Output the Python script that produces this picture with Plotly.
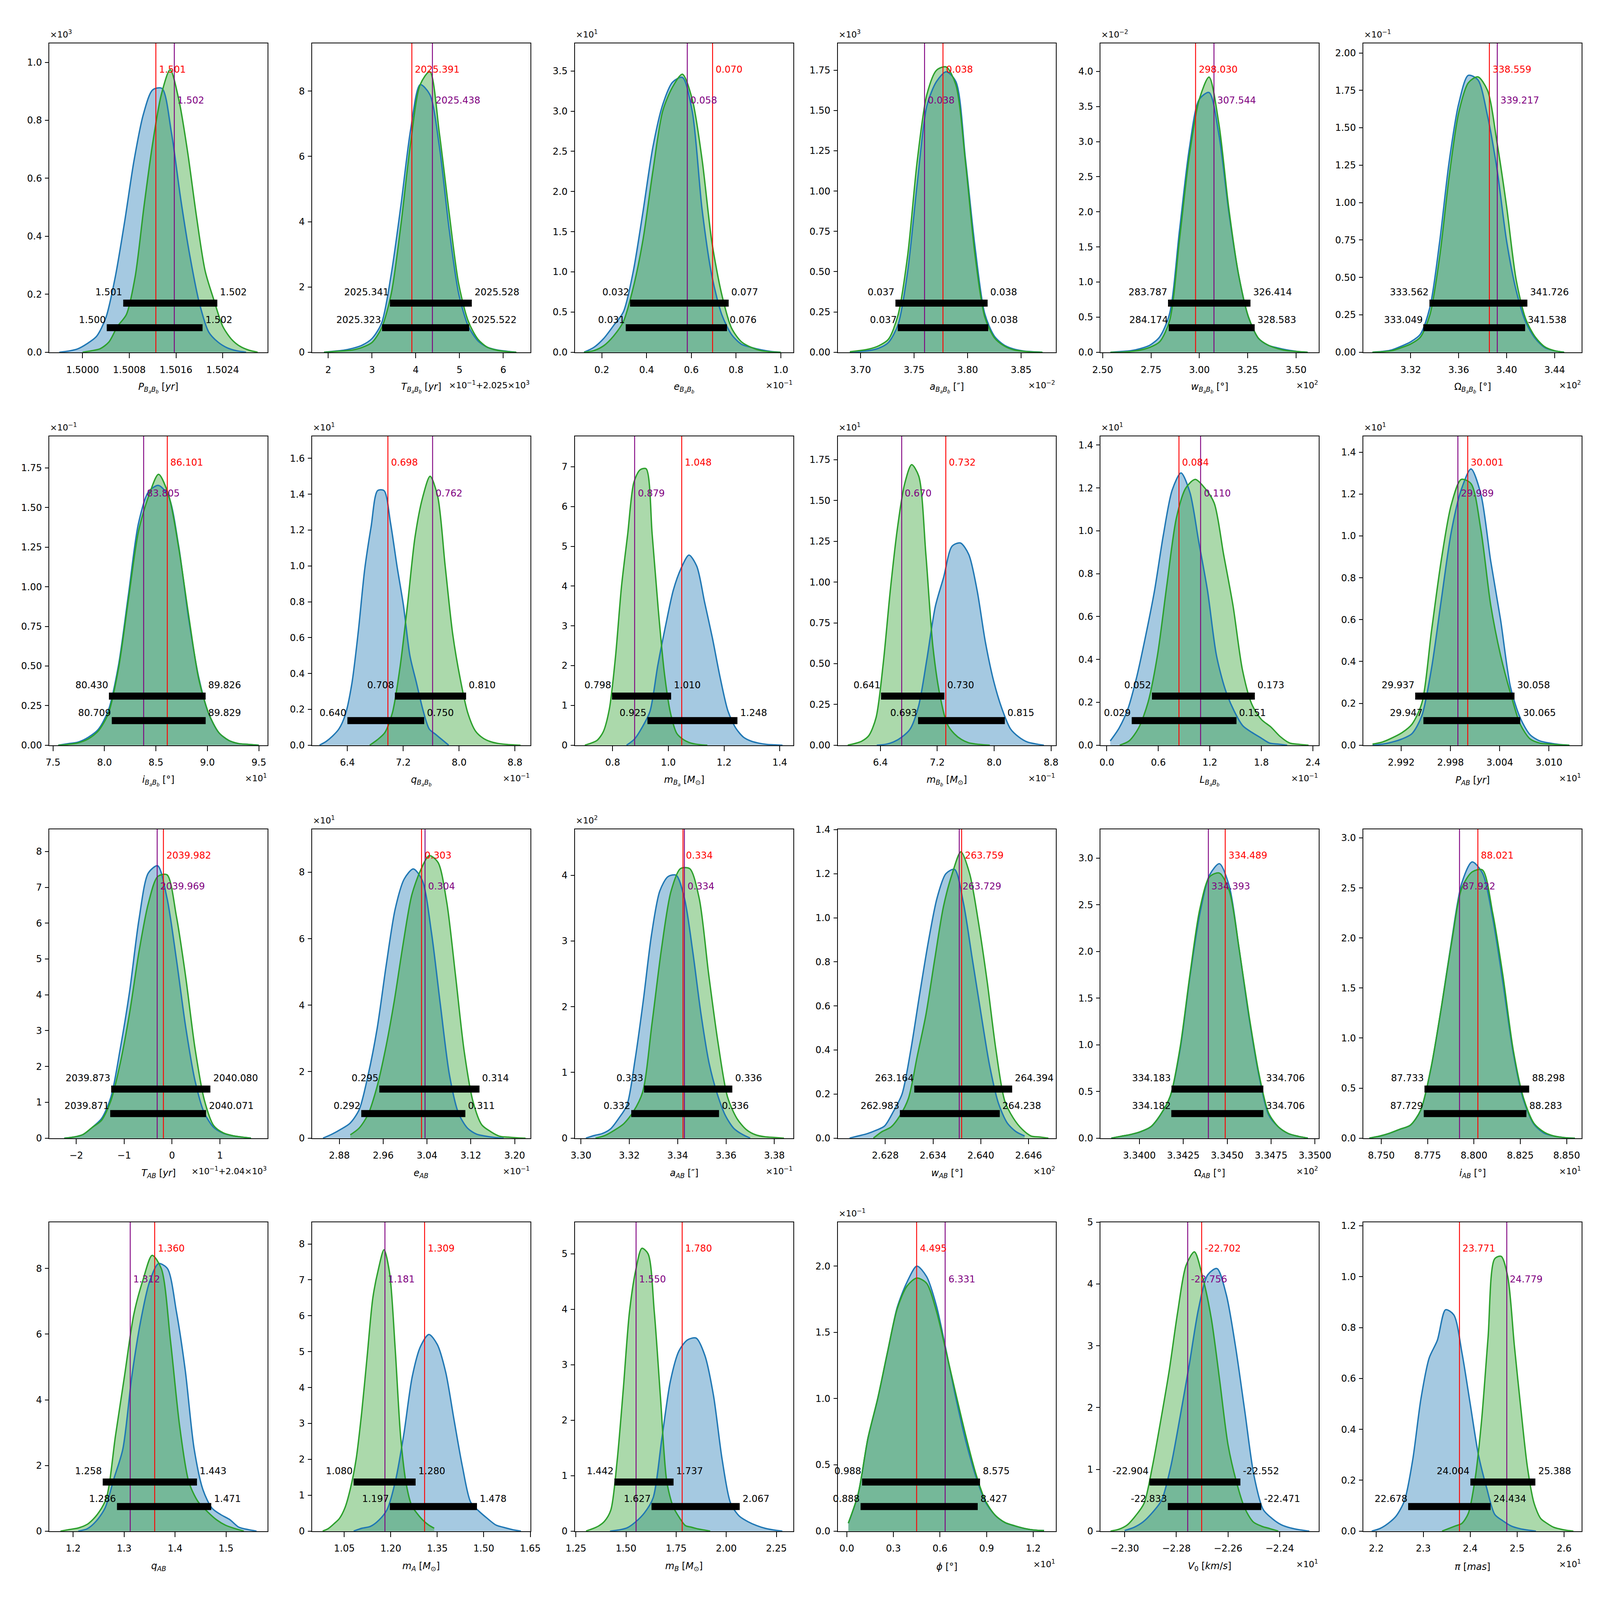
import numpy as np
import plotly.graph_objects as go
from plotly.subplots import make_subplots

# The figure fills the browser window; pixel sizes below are scaled from a
# 7200x4800 design to the 4096x4096 window the page is shown in.
SX = 4096 / 7200
SY = 4096 / 4800

# ------------------------
# Panels, left to right, top to bottom (values in the units shown on the axes)
# ------------------------

SB = "<sub><i>B<sub>a</sub>B<sub>b</sub></i></sub>"
x_titles = [
    "<i>P</i>" + SB + " [<i>yr</i>]", "<i>T</i>" + SB + " [<i>yr</i>]", "<i>e</i>" + SB,
    "<i>a</i>" + SB + " [″]", "<i>w</i>" + SB + " [°]", "Ω" + SB + " [°]",
    "<i>i</i>" + SB + " [°]", "<i>q</i>" + SB,
    "<i>m</i><sub><i>B<sub>a</sub></i></sub> [<i>M</i><sub>⊙</sub>]",
    "<i>m</i><sub><i>B<sub>b</sub></i></sub> [<i>M</i><sub>⊙</sub>]",
    "<i>L</i>" + SB, "<i>P</i><sub><i>AB</i></sub> [<i>yr</i>]",
    "<i>T</i><sub><i>AB</i></sub> [<i>yr</i>]", "<i>e</i><sub><i>AB</i></sub>",
    "<i>a</i><sub><i>AB</i></sub> [″]", "<i>w</i><sub><i>AB</i></sub> [°]",
    "Ω<sub><i>AB</i></sub> [°]", "<i>i</i><sub><i>AB</i></sub> [°]",
    "<i>q</i><sub><i>AB</i></sub>", "<i>m</i><sub><i>A</i></sub> [<i>M</i><sub>⊙</sub>]",
    "<i>m</i><sub><i>B</i></sub> [<i>M</i><sub>⊙</sub>]", "<i>ϕ</i> [°]",
    "<i>V</i><sub>0</sub> [<i>km</i>/<i>s</i>]", "<i>π</i> [<i>mas</i>]",
]

x_offsets = [
    "", "×10<sup>−1</sup>+2.025×10<sup>3</sup>", "×10<sup>−1</sup>", "×10<sup>−2</sup>",
    "×10<sup>2</sup>", "×10<sup>2</sup>",
    "×10<sup>1</sup>", "×10<sup>−1</sup>", "", "×10<sup>−1</sup>", "×10<sup>−1</sup>",
    "×10<sup>1</sup>",
    "×10<sup>−1</sup>+2.04×10<sup>3</sup>", "×10<sup>−1</sup>", "×10<sup>−1</sup>",
    "×10<sup>2</sup>", "×10<sup>2</sup>", "×10<sup>1</sup>",
    "", "", "", "×10<sup>1</sup>", "×10<sup>1</sup>", "×10<sup>1</sup>",
]

y_offsets = [
    "×10<sup>3</sup>", "", "×10<sup>1</sup>", "×10<sup>3</sup>", "×10<sup>−2</sup>",
    "×10<sup>−1</sup>",
    "×10<sup>−1</sup>", "×10<sup>1</sup>", "", "×10<sup>1</sup>", "×10<sup>1</sup>",
    "×10<sup>1</sup>",
    "", "×10<sup>1</sup>", "×10<sup>2</sup>", "", "", "",
    "", "", "", "×10<sup>−1</sup>", "", "",
]

x_ranges = [
    (1.49943, 1.50317), (1.631, 6.62), (0.0797, 1.0556), (3.6787, 3.8826),
    (2.489, 3.6175), (3.2805, 3.4625),
    (7.464, 9.585), (5.895, 9.021), (0.6647, 1.4483), (5.8007, 8.87),
    (-0.0733, 2.469), (2.98738, 3.01398),
    (-2.561, 1.995), (2.8303, 3.2288), (3.2975, 3.3878), (2.62202, 2.64945),
    (3.33779, 3.35022), (8.7403, 8.8581),
    (1.1532, 1.5817), (0.9461, 1.6505), (1.245, 2.334), (-0.0583, 1.3468),
    (-2.30935, -2.22483), (2.1723, 2.6374),
]

y_tops = [
    1.0655, 9.465, 3.844, 1.9165, 4.40, 2.064,
    1.95, 1.723, 7.765, 1.894, 1.441, 1.476,
    8.62, 9.293, 4.70, 1.402, 3.309, 3.086,
    9.41, 8.606, 5.57, 2.331, 5.0, 1.214,
]

x_ticks = [
    ["1.5000", "1.5008", "1.5016", "1.5024"], ["2", "3", "4", "5", "6"],
    ["0.2", "0.4", "0.6", "0.8", "1.0"], ["3.70", "3.75", "3.80", "3.85"],
    ["2.50", "2.75", "3.00", "3.25", "3.50"], ["3.32", "3.36", "3.40", "3.44"],
    ["7.5", "8.0", "8.5", "9.0", "9.5"], ["6.4", "7.2", "8.0", "8.8"],
    ["0.8", "1.0", "1.2", "1.4"], ["6.4", "7.2", "8.0", "8.8"],
    ["0.0", "0.6", "1.2", "1.8", "2.4"], ["2.992", "2.998", "3.004", "3.010"],
    ["−2", "−1", "0", "1"], ["2.88", "2.96", "3.04", "3.12", "3.20"],
    ["3.30", "3.32", "3.34", "3.36", "3.38"], ["2.628", "2.634", "2.640", "2.646"],
    ["3.3400", "3.3425", "3.3450", "3.3475", "3.3500"],
    ["8.750", "8.775", "8.800", "8.825", "8.850"],
    ["1.2", "1.3", "1.4", "1.5"], ["1.05", "1.20", "1.35", "1.50", "1.65"],
    ["1.25", "1.50", "1.75", "2.00", "2.25"], ["0.0", "0.3", "0.6", "0.9", "1.2"],
    ["−2.30", "−2.28", "−2.26", "−2.24"], ["2.2", "2.3", "2.4", "2.5", "2.6"],
]

y_ticks = [
    ["0.0", "0.2", "0.4", "0.6", "0.8", "1.0"], ["0", "2", "4", "6", "8"],
    ["0.0", "0.5", "1.0", "1.5", "2.0", "2.5", "3.0", "3.5"],
    ["0.00", "0.25", "0.50", "0.75", "1.00", "1.25", "1.50", "1.75"],
    ["0.0", "0.5", "1.0", "1.5", "2.0", "2.5", "3.0", "3.5", "4.0"],
    ["0.00", "0.25", "0.50", "0.75", "1.00", "1.25", "1.50", "1.75", "2.00"],
    ["0.00", "0.25", "0.50", "0.75", "1.00", "1.25", "1.50", "1.75"],
    ["0.0", "0.2", "0.4", "0.6", "0.8", "1.0", "1.2", "1.4", "1.6"],
    ["0", "1", "2", "3", "4", "5", "6", "7"],
    ["0.00", "0.25", "0.50", "0.75", "1.00", "1.25", "1.50", "1.75"],
    ["0.0", "0.2", "0.4", "0.6", "0.8", "1.0", "1.2", "1.4"],
    ["0.0", "0.2", "0.4", "0.6", "0.8", "1.0", "1.2", "1.4"],
    ["0", "1", "2", "3", "4", "5", "6", "7", "8"], ["0", "2", "4", "6", "8"],
    ["0", "1", "2", "3", "4"],
    ["0.0", "0.2", "0.4", "0.6", "0.8", "1.0", "1.2", "1.4"],
    ["0.0", "0.5", "1.0", "1.5", "2.0", "2.5", "3.0"],
    ["0.0", "0.5", "1.0", "1.5", "2.0", "2.5", "3.0"],
    ["0", "2", "4", "6", "8"], ["0", "1", "2", "3", "4", "5", "6", "7", "8"],
    ["0", "1", "2", "3", "4", "5"], ["0.0", "0.5", "1.0", "1.5", "2.0"],
    ["0", "1", "2", "3", "4", "5"], ["0.0", "0.2", "0.4", "0.6", "0.8", "1.0", "1.2"],
]

# ------------------------
# Posterior densities (at evenly spaced points over each span)
# ------------------------

blue_span = [
    (1.4996, 1.5028), (1.9, 6.3), (0.12, 1.0), (3.69, 3.87), (2.54, 3.56), (3.288, 3.448),
    (7.55, 9.5), (6.0, 7.85), (0.85, 1.41), (6.35, 8.7), (0.04, 2.1), (2.9885, 3.0125),
    (-2.25, 1.65), (2.85, 3.18), (3.302, 3.37), (2.6235, 2.6455), (3.3384, 3.3496),
    (8.7435, 8.8545),
    (1.21, 1.56), (1.08, 1.62), (1.42, 2.28), (0.01, 1.27), (-2.30, -2.2285), (2.19, 2.54),
]

blue_density = [
    [0.0, 0.004, 0.012, 0.03, 0.055, 0.12, 0.26, 0.45, 0.66, 0.82, 0.905, 0.91, 0.76, 0.53, 0.33, 0.17, 0.07, 0.035, 0.015, 0.005, 0.0],
    [0.0, 0.03, 0.06, 0.12, 0.22, 0.42, 0.9, 2.4, 4.5, 6.8, 8.2, 7.9, 6.3, 3.8, 1.8, 0.8, 0.35, 0.15, 0.07, 0.03, 0.0],
    [0.0, 0.06, 0.17, 0.33, 0.5, 1.0, 1.75, 2.55, 3.08, 3.36, 3.42, 3.0, 1.78, 0.95, 0.47, 0.22, 0.1, 0.06, 0.03, 0.01, 0.0],
    [0.0, 0.004, 0.01, 0.025, 0.06, 0.17, 0.5, 1.05, 1.53, 1.68, 1.74, 1.68, 1.2, 0.65, 0.24, 0.1, 0.045, 0.02, 0.008, 0.003, 0.0],
    [0.0, 0.01, 0.02, 0.05, 0.1, 0.22, 0.55, 1.73, 2.9, 3.6, 3.7, 3.1, 2.0, 1.1, 0.5, 0.2, 0.1, 0.06, 0.03, 0.01, 0.0],
    [0.0, 0.005, 0.015, 0.04, 0.07, 0.12, 0.3, 0.73, 1.27, 1.66, 1.85, 1.82, 1.58, 1.22, 0.74, 0.41, 0.2, 0.09, 0.03, 0.01, 0.0],
    [0.0, 0.01, 0.02, 0.05, 0.1, 0.22, 0.5, 0.95, 1.4, 1.6, 1.64, 1.57, 1.26, 0.8, 0.43, 0.2, 0.08, 0.03, 0.01, 0.005, 0.0],
    [0.0, 0.02, 0.05, 0.09, 0.17, 0.34, 0.63, 0.98, 1.22, 1.42, 1.42, 1.24, 1.0, 0.78, 0.5, 0.35, 0.2, 0.09, 0.06, 0.03, 0.0],
    [0.0, 0.15, 0.45, 0.85, 2.0, 3.0, 3.9, 4.45, 4.78, 4.5, 3.6, 2.7, 1.7, 0.86, 0.43, 0.2, 0.1, 0.05, 0.02, 0.01, 0.0],
    [0.0, 0.005, 0.02, 0.05, 0.1, 0.24, 0.53, 0.85, 1.03, 1.22, 1.24, 1.17, 0.95, 0.63, 0.39, 0.22, 0.1, 0.05, 0.02, 0.008, 0.0],
    [0.02, 0.08, 0.17, 0.32, 0.51, 0.72, 0.98, 1.19, 1.27, 1.18, 0.95, 0.72, 0.42, 0.26, 0.16, 0.09, 0.06, 0.035, 0.01, 0.005, 0.0],
    [0.0, 0.005, 0.015, 0.03, 0.055, 0.14, 0.37, 0.7, 1.02, 1.22, 1.32, 1.2, 0.88, 0.6, 0.28, 0.13, 0.05, 0.02, 0.01, 0.003, 0.0],
    [0.0, 0.03, 0.1, 0.3, 0.55, 1.15, 2.5, 4.1, 6.1, 7.4, 7.6, 6.7, 5.0, 3.1, 1.6, 0.7, 0.3, 0.14, 0.07, 0.03, 0.0],
    [0.0, 0.12, 0.27, 0.45, 0.85, 1.9, 3.3, 5.2, 6.9, 7.8, 8.1, 7.75, 6.2, 4.0, 1.9, 0.75, 0.3, 0.12, 0.06, 0.02, 0.0],
    [0.0, 0.04, 0.07, 0.14, 0.3, 0.5, 1.2, 2.1, 3.1, 3.76, 3.98, 4.0, 3.65, 2.85, 1.9, 1.14, 0.67, 0.34, 0.15, 0.06, 0.0],
    [0.0, 0.01, 0.02, 0.035, 0.055, 0.12, 0.2, 0.4, 0.65, 0.89, 1.09, 1.2, 1.22, 1.07, 0.82, 0.57, 0.33, 0.16, 0.07, 0.03, 0.01],
    [0.0, 0.02, 0.04, 0.07, 0.12, 0.25, 0.45, 0.95, 1.73, 2.4, 2.82, 2.94, 2.7, 2.03, 1.3, 0.68, 0.25, 0.12, 0.05, 0.02, 0.0],
    [0.0, 0.02, 0.05, 0.09, 0.13, 0.28, 0.7, 1.3, 1.97, 2.55, 2.76, 2.65, 2.2, 1.55, 0.85, 0.38, 0.14, 0.05, 0.02, 0.005, 0.0],
    [0.0, 0.07, 0.3, 0.7, 1.6, 2.5, 4.7, 6.4, 7.6, 8.15, 8.0, 6.7, 4.9, 2.5, 1.25, 0.7, 0.5, 0.35, 0.12, 0.05, 0.0],
    [0.0, 0.08, 0.13, 0.3, 0.6, 1.4, 2.7, 4.3, 5.15, 5.48, 5.2, 4.43, 3.1, 1.8, 0.8, 0.55, 0.35, 0.17, 0.1, 0.04, 0.0],
    [0.0, 0.02, 0.06, 0.17, 0.33, 0.6, 1.65, 2.7, 3.25, 3.45, 3.48, 3.17, 2.45, 1.3, 0.5, 0.27, 0.17, 0.1, 0.05, 0.02, 0.0],
    [0.06, 0.28, 0.7, 1.0, 1.35, 1.69, 1.88, 2.0, 1.92, 1.7, 1.36, 1.0, 0.68, 0.42, 0.22, 0.12, 0.065, 0.04, 0.02, 0.008, 0.004],
    [0.01, 0.06, 0.15, 0.3, 0.5, 1.05, 1.85, 2.7, 3.6, 4.15, 4.25, 3.83, 2.99, 1.95, 0.9, 0.35, 0.2, 0.1, 0.05, 0.02, 0.0],
    [0.0, 0.01, 0.03, 0.06, 0.12, 0.28, 0.52, 0.68, 0.75, 0.87, 0.85, 0.7, 0.5, 0.3, 0.17, 0.065, 0.04, 0.02, 0.01, 0.004, 0.0],
]

green_span = [
    (1.5000, 1.5030), (1.9, 6.3), (0.12, 1.0), (3.69, 3.87), (2.54, 3.56), (3.288, 3.448),
    (7.55, 9.5), (6.72, 8.88), (0.70, 1.14), (5.94, 7.94), (0.15, 2.35), (2.9885, 3.0125),
    (-2.25, 1.65), (2.90, 3.22), (3.306, 3.384), (2.6265, 2.6485), (3.3384, 3.3496),
    (8.7435, 8.8545),
    (1.175, 1.535), (0.98, 1.34), (1.30, 1.92), (0.01, 1.27), (-2.3055, -2.2405), (2.34, 2.62),
]

green_density = [
    [0.0, 0.005, 0.012, 0.035, 0.09, 0.13, 0.26, 0.5, 0.72, 0.89, 0.975, 0.87, 0.69, 0.47, 0.28, 0.18, 0.09, 0.045, 0.02, 0.007, 0.0],
    [0.0, 0.02, 0.04, 0.07, 0.15, 0.3, 0.75, 1.8, 3.9, 6.4, 8.2, 8.6, 6.7, 4.3, 2.1, 0.95, 0.4, 0.15, 0.06, 0.02, 0.0],
    [0.0, 0.02, 0.08, 0.2, 0.38, 0.8, 1.4, 2.25, 3.0, 3.3, 3.46, 3.15, 2.4, 1.37, 0.72, 0.3, 0.13, 0.06, 0.02, 0.005, 0.0],
    [0.003, 0.01, 0.02, 0.04, 0.08, 0.23, 0.6, 1.19, 1.6, 1.75, 1.77, 1.66, 1.18, 0.6, 0.22, 0.09, 0.04, 0.015, 0.006, 0.002, 0.0],
    [0.0, 0.0, 0.01, 0.03, 0.07, 0.15, 0.45, 1.6, 2.8, 3.6, 3.92, 3.25, 2.05, 1.1, 0.5, 0.2, 0.1, 0.05, 0.02, 0.01, 0.0],
    [0.0, 0.003, 0.01, 0.03, 0.055, 0.1, 0.25, 0.63, 1.17, 1.6, 1.8, 1.84, 1.75, 1.4, 0.97, 0.48, 0.22, 0.1, 0.035, 0.01, 0.0],
    [0.0, 0.005, 0.015, 0.04, 0.09, 0.2, 0.48, 0.92, 1.35, 1.57, 1.71, 1.58, 1.25, 0.82, 0.42, 0.2, 0.08, 0.03, 0.01, 0.005, 0.0],
    [0.0, 0.03, 0.07, 0.18, 0.43, 0.78, 1.16, 1.38, 1.5, 1.39, 1.0, 0.62, 0.37, 0.18, 0.08, 0.04, 0.02, 0.01, 0.005, 0.002, 0.0],
    [0.0, 0.05, 0.12, 0.33, 0.9, 2.2, 4.0, 5.3, 6.6, 6.92, 6.95, 5.3, 3.4, 1.8, 0.8, 0.3, 0.15, 0.07, 0.03, 0.01, 0.0],
    [0.0, 0.01, 0.025, 0.06, 0.17, 0.5, 0.95, 1.33, 1.6, 1.72, 1.65, 1.17, 0.6, 0.3, 0.13, 0.07, 0.035, 0.015, 0.007, 0.003, 0.0],
    [0.0, 0.02, 0.08, 0.2, 0.42, 0.75, 1.06, 1.2, 1.24, 1.2, 1.13, 0.89, 0.65, 0.35, 0.19, 0.12, 0.085, 0.04, 0.01, 0.004, 0.0],
    [0.005, 0.015, 0.035, 0.06, 0.1, 0.2, 0.55, 0.89, 1.15, 1.27, 1.25, 1.03, 0.67, 0.43, 0.25, 0.1, 0.03, 0.01, 0.005, 0.002, 0.0],
    [0.0, 0.03, 0.1, 0.3, 0.5, 1.05, 2.1, 3.5, 5.2, 6.55, 7.3, 7.35, 6.2, 4.5, 2.5, 1.06, 0.35, 0.15, 0.07, 0.03, 0.0],
    [0.1, 0.3, 0.7, 1.5, 2.66, 4.1, 5.8, 7.3, 8.05, 8.5, 8.3, 7.1, 4.9, 2.6, 1.1, 0.4, 0.2, 0.06, 0.03, 0.01, 0.0],
    [0.0, 0.04, 0.12, 0.22, 0.4, 0.7, 1.75, 2.88, 3.75, 4.1, 4.1, 3.65, 2.5, 1.45, 0.63, 0.3, 0.13, 0.05, 0.02, 0.01, 0.0],
    [0.0, 0.03, 0.05, 0.1, 0.18, 0.37, 0.56, 0.81, 1.05, 1.2, 1.3, 1.2, 0.98, 0.71, 0.4, 0.17, 0.09, 0.04, 0.01, 0.005, 0.0],
    [0.0, 0.02, 0.04, 0.07, 0.12, 0.25, 0.45, 0.97, 1.75, 2.45, 2.8, 2.84, 2.65, 2.03, 1.32, 0.7, 0.27, 0.12, 0.05, 0.02, 0.0],
    [0.0, 0.02, 0.05, 0.09, 0.13, 0.28, 0.7, 1.3, 1.95, 2.5, 2.66, 2.68, 2.25, 1.62, 0.88, 0.4, 0.15, 0.06, 0.02, 0.005, 0.0],
    [0.0, 0.05, 0.1, 0.22, 0.5, 1.0, 2.9, 4.75, 6.6, 7.65, 8.4, 8.0, 5.8, 3.2, 1.5, 0.9, 0.6, 0.35, 0.18, 0.08, 0.0],
    [0.0, 0.07, 0.2, 0.35, 0.65, 1.2, 2.0, 3.3, 4.9, 6.5, 7.3, 7.84, 7.2, 5.1, 2.6, 1.3, 0.7, 0.48, 0.3, 0.17, 0.08],
    [0.0, 0.04, 0.09, 0.18, 0.38, 1.25, 2.55, 3.95, 4.7, 5.1, 5.0, 3.95, 2.4, 0.9, 0.45, 0.25, 0.1, 0.07, 0.04, 0.02, 0.0],
    [0.06, 0.28, 0.7, 1.0, 1.35, 1.68, 1.85, 1.91, 1.87, 1.66, 1.35, 1.03, 0.72, 0.44, 0.23, 0.12, 0.065, 0.04, 0.02, 0.008, 0.004],
    [0.0, 0.03, 0.1, 0.25, 0.45, 1.05, 1.8, 2.6, 3.54, 4.3, 4.52, 4.1, 3.45, 2.45, 1.4, 0.8, 0.37, 0.15, 0.08, 0.04, 0.0],
    [0.0, 0.01, 0.02, 0.03, 0.07, 0.2, 0.43, 0.76, 1.07, 1.08, 1.0, 0.73, 0.48, 0.25, 0.11, 0.05, 0.03, 0.015, 0.008, 0.003, 0.0],
]

# ------------------------
# Reference values (red, purple) and intervals (green upper, blue lower)
# ------------------------

red_x = [
    1.501255, 3.91, 0.695, 3.777, 2.9803, 3.38559,
    8.6101, 6.98, 1.048, 7.32, 0.84, 3.0001,
    -0.18, 3.03, 3.3422, 2.63759, 3.34489, 8.8021,
    1.360, 1.309, 1.780, 0.4495, -2.2702, 2.3771,
]
red_text = [
    "1.501", "2025.391", "0.070", "0.038", "298.030", "338.559",
    "86.101", "0.698", "1.048", "0.732", "0.084", "30.001",
    "2039.982", "0.303", "0.334", "263.759", "334.489", "88.021",
    "1.360", "1.309", "1.780", "4.495", "-22.702", "23.771",
]

purple_x = [
    1.501571, 4.38, 0.582, 3.7598, 3.07544, 3.39217,
    8.3805, 7.62, 0.879, 6.70, 1.092, 2.9989,
    -0.31, 3.0364, 3.34278, 2.63729, 3.34393, 8.7922,
    1.312, 1.181, 1.550, 0.6331, -2.2756, 2.4779,
]
purple_text = [
    "1.502", "2025.438", "0.058", "0.038", "307.544", "339.217",
    "83.805", "0.762", "0.879", "0.670", "0.110", "29.989",
    "2039.969", "0.304", "0.334", "263.729", "334.393", "87.922",
    "1.312", "1.181", "1.550", "6.331", "-22.756", "24.779",
]

green_ci = [
    (1.500696, 1.502308), (3.41, 5.28), (0.3263, 0.767), (3.7326, 3.8187),
    (2.83787, 3.26414), (3.33562, 3.41726),
    (8.043, 8.9826), (7.08, 8.10), (0.798, 1.010), (6.41, 7.30), (0.5257, 1.7237),
    (2.9937, 3.0058),
    (-1.27, 0.80), (2.953, 3.1358), (3.3261, 3.3626), (2.63164, 2.64394),
    (3.34183, 3.34706), (8.7733, 8.8298),
    (1.258, 1.443), (1.080, 1.280), (1.442, 1.737), (0.0988, 0.8575),
    (-2.2904, -2.2552), (2.4004, 2.5388),
]
green_ci_text = [
    ("1.501", "1.502"), ("2025.341", "2025.528"), ("0.032", "0.077"), ("0.037", "0.038"),
    ("283.787", "326.414"), ("333.562", "341.726"),
    ("80.430", "89.826"), ("0.708", "0.810"), ("0.798", "1.010"), ("0.641", "0.730"),
    ("0.052", "0.173"), ("29.937", "30.058"),
    ("2039.873", "2040.080"), ("0.295", "0.314"), ("0.333", "0.336"), ("263.164", "264.394"),
    ("334.183", "334.706"), ("87.733", "88.298"),
    ("1.258", "1.443"), ("1.080", "1.280"), ("1.442", "1.737"), ("0.988", "8.575"),
    ("-22.904", "-22.552"), ("24.004", "25.388"),
]

blue_ci = [
    (1.500414, 1.502055), (3.23, 5.22), (0.3068, 0.7594), (3.7348, 3.8193),
    (2.84174, 3.28583), (3.33049, 3.41538),
    (8.0709, 8.9829), (6.40, 7.50), (0.925, 1.248), (6.93, 8.15), (0.29, 1.51),
    (2.9947, 3.0065),
    (-1.29, 0.71), (2.92, 3.11), (3.3208, 3.3571), (2.62983, 2.64238),
    (3.34182, 3.34706), (8.7729, 8.8283),
    (1.286, 1.471), (1.197, 1.478), (1.627, 2.067), (0.0888, 0.8427),
    (-2.2833, -2.2471), (2.2678, 2.4434),
]
blue_ci_text = [
    ("1.500", "1.502"), ("2025.323", "2025.522"), ("0.031", "0.076"), ("0.037", "0.038"),
    ("284.174", "328.583"), ("333.049", "341.538"),
    ("80.709", "89.829"), ("0.640", "0.750"), ("0.925", "1.248"), ("0.693", "0.815"),
    ("0.029", "0.151"), ("29.947", "30.065"),
    ("2039.871", "2040.071"), ("0.292", "0.311"), ("0.332", "0.336"), ("262.983", "264.238"),
    ("334.182", "334.706"), ("87.729", "88.283"),
    ("1.286", "1.471"), ("1.197", "1.478"), ("1.627", "2.067"), ("0.888", "8.427"),
    ("-22.833", "-22.471"), ("22.678", "24.434"),
]

# ------------------------
# Style
# ------------------------

BLUE = "#1f77b4"
GREEN = "#2ca02c"
FILLS = {BLUE: "rgba(31,119,180,0.4)", GREEN: "rgba(44,160,44,0.4)"}
FS = 24
FONT = dict(family="DejaVu Sans", size=FS, color="black")
OFFSET_FONT = dict(family="DejaVu Sans", size=FS - 2, color="black")

fig = make_subplots(rows=4, cols=6)


def num(s):
    return float(s.replace("−", "-"))


for k in range(24):
    row, col = k // 6 + 1, k % 6 + 1
    n = "" if k == 0 else str(k + 1)
    xa, ya = "x" + n, "y" + n

    curves = [(blue_span[k], blue_density[k], BLUE), (green_span[k], green_density[k], GREEN)]

    # shaded histograms
    for span, dens, color in curves:
        xs = np.linspace(span[0], span[1], len(dens))
        fig.add_trace(
            go.Scatter(x=xs, y=dens, mode="lines", fill="tozeroy", fillcolor=FILLS[color],
                       line=dict(width=0, shape="spline", smoothing=0.8),
                       showlegend=False, hoverinfo="skip"),
            row=row, col=col
        )
    # kde lines
    for span, dens, color in curves:
        xs = np.linspace(span[0], span[1], len(dens))
        fig.add_trace(
            go.Scatter(x=xs, y=dens, mode="lines",
                       line=dict(color=color, width=3.5, shape="spline", smoothing=0.8),
                       showlegend=False, hoverinfo="skip"),
            row=row, col=col
        )

    # axes (positions as fractions of the 7200x4800 design)
    x0 = (168 + 1199 * (col - 1)) / 7200
    ytop = 1 - (105 + 1187 * (row - 1)) / 4800
    fig.update_xaxes(
        domain=[x0, x0 + 996 / 7200], range=list(x_ranges[k]),
        tickvals=[num(t) for t in x_ticks[k]], ticktext=x_ticks[k],
        row=row, col=col
    )
    fig.update_yaxes(
        domain=[ytop - 933 / 4800, ytop], range=[0, y_tops[k]],
        tickvals=[num(t) for t in y_ticks[k]], ticktext=y_ticks[k],
        row=row, col=col
    )

    # vertical reference lines
    for xv, color, txt, yp in [(red_x[k], "red", red_text[k], 0.915),
                               (purple_x[k], "purple", purple_text[k], 0.815)]:
        fig.add_shape(type="line", xref=xa, yref=ya + " domain",
                      x0=xv, x1=xv, y0=0, y1=1, line=dict(color=color, width=2.3))
        fig.add_annotation(x=xv, y=yp, xref=xa, yref=ya + " domain", text=txt,
                           showarrow=False, xanchor="left", yanchor="middle", xshift=6,
                           font=dict(family="DejaVu Sans", size=FS, color=color))

    # interval bars
    for (lo, hi), (tlo, thi), yb, yt in [(green_ci[k], green_ci_text[k], 0.159, 0.194),
                                         (blue_ci[k], blue_ci_text[k], 0.0795, 0.104)]:
        fig.add_shape(type="line", xref=xa, yref=ya + " domain",
                      x0=lo, x1=hi, y0=yb, y1=yb, line=dict(color="black", width=21 * SY))
        fig.add_annotation(x=lo, y=yt, xref=xa, yref=ya + " domain", text=tlo,
                           showarrow=False, xanchor="right", yanchor="middle", font=FONT)
        fig.add_annotation(x=hi, y=yt, xref=xa, yref=ya + " domain", text=thi,
                           showarrow=False, xanchor="left", yanchor="middle", xshift=5,
                           font=FONT)

    # axis label and offset texts
    fig.add_annotation(x=0.5, y=0, xref=xa + " domain", yref=ya + " domain",
                       text=x_titles[k], showarrow=False, xanchor="center",
                       yanchor="middle", yshift=-107 * SY, font=FONT)
    if x_offsets[k]:
        fig.add_annotation(x=1, y=0, xref=xa + " domain", yref=ya + " domain",
                           text=x_offsets[k], showarrow=False, xanchor="right",
                           yanchor="middle", yshift=-98 * SY, font=OFFSET_FONT)
    if y_offsets[k]:
        fig.add_annotation(x=0, y=1, xref=xa + " domain", yref=ya + " domain",
                           text=y_offsets[k], showarrow=False, xanchor="left",
                           yanchor="middle", yshift=28 * SY, font=OFFSET_FONT)

axis_style = dict(
    showline=True, mirror=True, linecolor="black", linewidth=2,
    ticks="outside", tickwidth=2, tickcolor="black",
    showgrid=False, zeroline=False, tickfont=FONT,
)
fig.update_xaxes(**axis_style, ticklen=round(15 * SY), ticklabelstandoff=9)
fig.update_yaxes(**axis_style, ticklen=round(15 * SX), ticklabelstandoff=3)

fig.update_layout(
    autosize=True,
    margin=dict(l=0, r=0, t=0, b=0),
    paper_bgcolor="white",
    plot_bgcolor="white",
    showlegend=False,
    font=FONT,
)

fig.write_html("out.html", default_width="100vw", default_height="100vh",
               config={"responsive": True})
